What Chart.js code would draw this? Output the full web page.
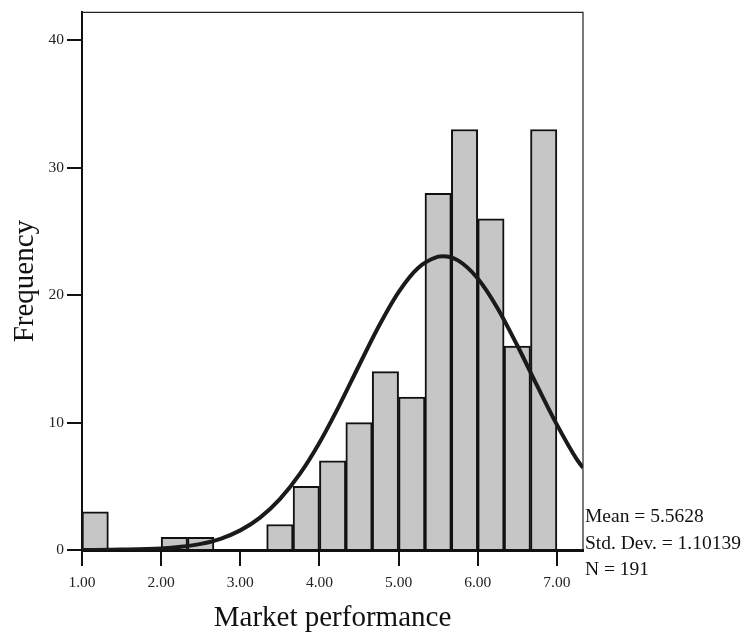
<!DOCTYPE html>
<html>
<head>
<meta charset="utf-8">
<script src="https://cdn.jsdelivr.net/npm/chart.js@4.4.1/dist/chart.umd.min.js"></script>
<style>
html,body{margin:0;padding:0;background:#fff;}
#wrap{width:743px;height:636px;position:relative;}
</style>
</head>
<body>
<div id="wrap"><canvas id="c" width="743" height="636"></canvas></div>
<script>
// Histogram bins (bin start values, width 1/3)
const binStarts = [1.0, 1.3333, 1.6667, 2.0, 2.3333, 2.6667, 3.0, 3.3333, 3.6667, 4.0, 4.3333, 4.6667, 5.0, 5.3333, 5.6667, 6.0, 6.3333, 6.6667];
const counts    = [3,   0,      0,      1,   1,      0,      0,   2,      5,      7,   10,     14,     12,  28,     33,     26,  16,     33];
const binWidth = 1/3;

// Normal curve
const curveX = [1.0, 1.5, 2.0, 2.25, 2.5, 2.75, 3.0, 3.25, 3.5, 3.75, 4.0, 4.25, 4.5, 4.75, 5.0, 5.25, 5.5, 5.56, 5.75, 6.0, 6.25, 6.5, 6.75, 7.0, 7.25, 7.33];
const curveY = [0.0, 0.03, 0.12, 0.25, 0.48, 0.88, 1.54, 2.54, 3.99, 5.95, 8.42, 11.33, 14.48, 17.56, 20.24, 22.15, 23.02, 23.06, 22.73, 21.31, 18.98, 16.05, 12.90, 9.84, 7.13, 6.45];

const xTicks = [1, 2, 3, 4, 5, 6, 7];
const yTicks = [0, 10, 20, 30, 40];
const statsText = ["Mean = 5.5628", "Std. Dev. = 1.10139", "N = 191"];

const SERIF = "'Liberation Serif', 'DejaVu Serif', serif";

const barData = binStarts.map((s, i) => ({ x: s + binWidth / 2, y: counts[i] }));
const lineData = curveX.map((x, i) => ({ x: x, y: curveY[i] }));

const framePlugin = {
  id: 'frame',
  afterDraw(chart) {
    const { ctx, chartArea: a } = chart;
    ctx.save();
    ctx.strokeStyle = '#222';
    ctx.lineWidth = 1.2;
    ctx.beginPath();
    ctx.moveTo(a.left, a.top);
    ctx.lineTo(a.right, a.top);
    ctx.lineTo(a.right, a.bottom);
    ctx.stroke();
    ctx.fillStyle = '#111';
    ctx.font = "19.5px " + SERIF;
    ctx.textAlign = 'left';
    ctx.textBaseline = 'alphabetic';
    statsText.forEach((t, i) => {
      ctx.fillText(t, a.right + 2, 522 + i * 26.5);
    });
    ctx.restore();
  }
};

new Chart(document.getElementById('c'), {
  data: {
    datasets: [
      {
        type: 'line',
        data: lineData,
        borderColor: '#1a1a1a',
        borderWidth: 4,
        pointRadius: 0,
        cubicInterpolationMode: 'monotone',
        fill: false,
        order: 0
      },
      {
        type: 'bar',
        data: barData,
        backgroundColor: '#c6c6c6',
        borderColor: '#111',
        borderWidth: 2,
        borderSkipped: 'bottom',
        barPercentage: 1.0,
        categoryPercentage: 1.0,
        order: 1
      }
    ]
  },
  options: {
    responsive: false,
    animation: false,
    layout: { padding: { left: 8, right: 160, top: 12, bottom: 0 } },
    plugins: { legend: { display: false }, tooltip: { enabled: false } },
    scales: {
      x: {
        type: 'linear',
        min: 1.0,
        max: 7.33,
        offset: false,
        grid: { display: true, offset: false, drawOnChartArea: false, drawTicks: true, tickLength: 16, color: '#111', lineWidth: 2 },
        border: { display: true, color: '#111', width: 3 },
        afterBuildTicks(scale) { scale.ticks = xTicks.map(v => ({ value: v })); },
        ticks: {
          color: '#222',
          font: { family: SERIF, size: 15.5 },
          padding: 8,
          callback: v => Number(v).toFixed(2)
        },
        title: {
          display: true,
          text: 'Market performance',
          color: '#111',
          font: { family: SERIF, size: 29 },
          padding: { top: 1, bottom: 0 }
        },
        afterFit(scale) { scale.height = 86; }
      },
      y: {
        type: 'linear',
        min: 0,
        max: 42.2,
        grid: { display: true, drawOnChartArea: false, drawTicks: true, tickLength: 15, color: '#111', lineWidth: 2 },
        border: { display: true, color: '#111', width: 2 },
        afterBuildTicks(scale) { scale.ticks = yTicks.map(v => ({ value: v })); },
        ticks: {
          color: '#222',
          font: { family: SERIF, size: 15.5 },
          padding: 3
        },
        title: {
          display: true,
          text: 'Frequency',
          color: '#111',
          font: { family: SERIF, size: 29 },
          padding: { top: 0, bottom: 4 }
        },
        afterFit(scale) { scale.width = 74; }
      }
    }
  },
  plugins: [framePlugin]
});
</script>
</body>
</html>
